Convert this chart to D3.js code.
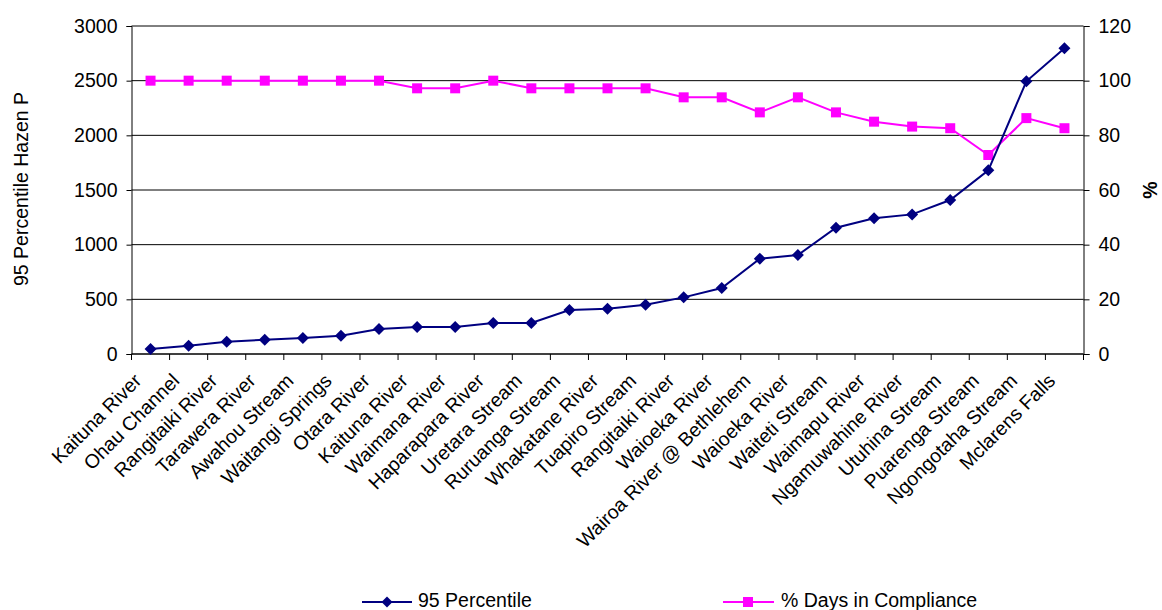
<!DOCTYPE html>
<html>
<head>
<meta charset="utf-8">
<script src="https://cdn.jsdelivr.net/npm/d3@7/dist/d3.min.js"></script>
<style>
  html, body { margin: 0; padding: 0; background: #fff; }
  svg { display: block; font-family: "Liberation Sans", Arial, sans-serif; }
</style>
</head>
<body>
<svg id="chart" width="1162" height="610"></svg>
<script>
// Sampling sites, ordered by 95th percentile
const sites = [
  "Kaituna River", "Ohau Channel", "Rangitaiki River", "Tarawera River",
  "Awahou Stream", "Waitangi Springs", "Otara River", "Kaituna River",
  "Waimana River", "Haparapara River", "Uretara Stream", "Ruruanga Stream",
  "Whakatane River", "Tuapiro Stream", "Rangitaiki River", "Waioeka River",
  "Wairoa River @ Bethlehem", "Waioeka River", "Waiteti Stream", "Waimapu River",
  "Ngamuwahine River", "Utuhina Stream", "Puarenga Stream", "Ngongotaha Stream",
  "Mclarens Falls"
];

// 95 Percentile Hazen P (left axis)
const percentile95 = [
  45, 76, 113, 131, 146, 168, 229, 247, 247, 284, 284, 402, 415,
  451, 518, 604, 872, 905, 1155, 1241, 1277, 1408, 1680, 2494, 2796
];

// % Days in Compliance (right axis)
const compliance = [
  100, 100, 100, 100, 100, 100, 100, 97.2, 97.2, 100, 97.2, 97.2, 97.2,
  97.2, 93.9, 93.9, 88.4, 93.9, 88.4, 85, 83.2, 82.6, 72.8, 86.3, 82.6
];

const leftTicks = [0, 500, 1000, 1500, 2000, 2500, 3000];
const rightTicks = [0, 20, 40, 60, 80, 100, 120];

const leftTitle = "95 Percentile Hazen P";
const rightTitle = "%";
const seriesNames = ["95 Percentile", "% Days in Compliance"];

const BLUE = "#000080";
const PINK = "#FF00FF";
const FONT = 19.5;

const svg = d3.select("#chart");
const plot = { left: 131.5, right: 1083.5, top: 26, bottom: 354 };

const idx = d3.range(sites.length);
const x = d3.scaleBand().domain(idx).range([plot.left, plot.right]);
const cx = i => x(i) + x.bandwidth() / 2;
const yL = d3.scaleLinear().domain([0, 3000]).range([plot.bottom, plot.top]);
const yR = d3.scaleLinear().domain([0, 120]).range([plot.bottom, plot.top]);

// horizontal gridlines
svg.append("g")
  .selectAll("line")
  .data(leftTicks)
  .join("line")
  .attr("x1", plot.left).attr("x2", plot.right)
  .attr("y1", d => yL(d)).attr("y2", d => yL(d))
  .attr("stroke", "#000").attr("stroke-width", 1);

// left axis
const gL = svg.append("g")
  .attr("transform", `translate(${plot.left},0)`)
  .call(d3.axisLeft(yL).tickValues(leftTicks).tickSize(5).tickPadding(9).tickFormat(d3.format("d")));
gL.select(".domain").attr("stroke", "#000");
gL.selectAll(".tick line").attr("stroke", "#000");
gL.selectAll("text").attr("font-size", FONT).attr("fill", "#000")
  .attr("font-family", "Liberation Sans, Arial, sans-serif");

// right axis
const gR = svg.append("g")
  .attr("transform", `translate(${plot.right},0)`)
  .call(d3.axisRight(yR).tickValues(rightTicks).tickSize(6).tickPadding(9).tickFormat(d3.format("d")));
gR.select(".domain").attr("stroke", "#000");
gR.selectAll(".tick line").attr("stroke", "#000");
gR.selectAll("text").attr("font-size", FONT).attr("fill", "#000")
  .attr("font-family", "Liberation Sans, Arial, sans-serif");

// category axis: tick marks at band boundaries
const gX = svg.append("g");
gX.append("line")
  .attr("x1", plot.left).attr("x2", plot.right)
  .attr("y1", plot.bottom).attr("y2", plot.bottom)
  .attr("stroke", "#000");
gX.selectAll("line.tk")
  .data(d3.range(sites.length + 1))
  .join("line")
  .attr("class", "tk")
  .attr("x1", i => plot.left + i * x.step()).attr("x2", i => plot.left + i * x.step())
  .attr("y1", plot.bottom).attr("y2", plot.bottom + 6)
  .attr("stroke", "#000");
gX.selectAll("text")
  .data(idx)
  .join("text")
  .attr("transform", i => `translate(${cx(i) - 8},${plot.bottom + 28}) rotate(-45)`)
  .attr("text-anchor", "end")
  .attr("font-size", FONT)
  .attr("fill", "#000")
  .text(i => sites[i]);

// axis titles
svg.append("text")
  .attr("transform", `translate(28,189) rotate(-90)`)
  .attr("text-anchor", "middle")
  .attr("font-size", FONT)
  .attr("fill", "#000")
  .text(leftTitle);
svg.append("text")
  .attr("transform", `translate(1157,190) rotate(-90)`)
  .attr("text-anchor", "middle")
  .attr("font-size", FONT)
  .attr("font-weight", "bold")
  .attr("fill", "#000")
  .text(rightTitle);

// compliance series (squares)
const lineR = d3.line().x((d, i) => cx(i)).y(d => yR(d));
svg.append("path")
  .datum(compliance)
  .attr("d", lineR)
  .attr("fill", "none").attr("stroke", PINK).attr("stroke-width", 2);
svg.append("g")
  .selectAll("rect")
  .data(compliance)
  .join("rect")
  .attr("x", (d, i) => cx(i) - 5).attr("y", d => yR(d) - 5)
  .attr("width", 10).attr("height", 10)
  .attr("fill", PINK);

// percentile series (diamonds)
const lineL = d3.line().x((d, i) => cx(i)).y(d => yL(d));
svg.append("path")
  .datum(percentile95)
  .attr("d", lineL)
  .attr("fill", "none").attr("stroke", BLUE).attr("stroke-width", 2);
const diamond = s => `M0,${-s}L${s},0L0,${s}L${-s},0Z`;
svg.append("g")
  .selectAll("path")
  .data(percentile95)
  .join("path")
  .attr("transform", (d, i) => `translate(${cx(i)},${yL(d)})`)
  .attr("d", diamond(6))
  .attr("fill", BLUE);

// legend
const legend = [
  { name: seriesNames[0], color: BLUE, x0: 362, x1: 412, mx: 387, tx: 418, shape: "diamond" },
  { name: seriesNames[1], color: PINK, x0: 723, x1: 774, mx: 748, tx: 781, shape: "square" }
];
const ly = 602;
const lg = svg.append("g").selectAll("g").data(legend).join("g");
lg.append("line")
  .attr("x1", d => d.x0).attr("x2", d => d.x1)
  .attr("y1", ly).attr("y2", ly)
  .attr("stroke", d => d.color).attr("stroke-width", 2);
lg.filter(d => d.shape === "diamond").append("path")
  .attr("transform", d => `translate(${d.mx},${ly})`)
  .attr("d", diamond(5.5))
  .attr("fill", d => d.color);
lg.filter(d => d.shape === "square").append("rect")
  .attr("x", d => d.mx - 5).attr("y", ly - 5)
  .attr("width", 10).attr("height", 10)
  .attr("fill", d => d.color);
lg.append("text")
  .attr("x", d => d.tx).attr("y", ly + 4.5)
  .attr("font-size", FONT)
  .attr("fill", "#000")
  .text(d => d.name);
</script>
</body>
</html>
